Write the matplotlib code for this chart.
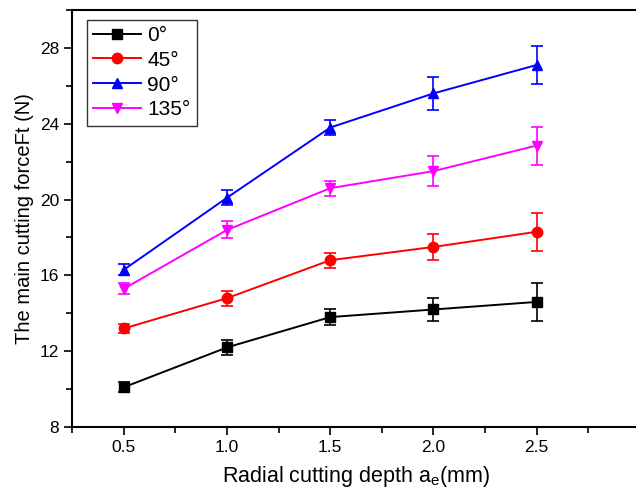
import numpy as np
import matplotlib.pyplot as plt
from matplotlib.ticker import MultipleLocator

plt.rcParams['font.family'] = ['Liberation Sans', 'DejaVu Sans']
plt.rcParams['mathtext.fontset'] = 'custom'
plt.rcParams['mathtext.rm'] = 'Liberation Sans'

# radial cutting depth (mm)
depth = [0.5, 1.0, 1.5, 2.0, 2.5]

# main cutting force Ft (N) and error bars for each angle
labels = ['0°', '45°', '90°', '135°']
force_0 = [10.1, 12.2, 13.8, 14.2, 14.6]
err_0 = [0.25, 0.4, 0.4, 0.6, 1.0]
force_45 = [13.2, 14.8, 16.8, 17.5, 18.3]
err_45 = [0.25, 0.4, 0.4, 0.7, 1.0]
force_90 = [16.3, 20.1, 23.8, 25.6, 27.1]
err_90 = [0.3, 0.4, 0.4, 0.85, 1.0]
force_135 = [15.3, 18.4, 20.6, 21.5, 22.85]
err_135 = [0.3, 0.45, 0.4, 0.8, 1.0]

forces = [force_0, force_45, force_90, force_135]
errs = [err_0, err_45, err_90, err_135]
colors = ['black', 'red', 'blue', 'magenta']
markers = ['s', 'o', '^', 'v']


def draw():
  fig = plt.figure(figsize=(6.36, 4.94), dpi=100)
  ax = fig.add_axes([0.1137, 0.1356, 0.8906, 0.8441])
  handles = []
  for f, e, c, m, lab in zip(forces, errs, colors, markers, labels):
    cont = ax.errorbar(depth, f, yerr=e, color=c, marker=m, markersize=7.5,
                       linewidth=1.4, elinewidth=1.2, capsize=4, capthick=1.2,
                       label=lab)
    handles.append(cont[0])
  ax.set_xlim(0.25, 2.995)
  ax.set_ylim(8, 30)
  ax.xaxis.set_major_locator(MultipleLocator(0.5))
  ax.xaxis.set_minor_locator(MultipleLocator(0.25))
  ax.yaxis.set_major_locator(MultipleLocator(4))
  ax.yaxis.set_minor_locator(MultipleLocator(2))
  ax.tick_params(which='both', direction='out', labelsize=12.5, width=1.2)
  ax.tick_params(which='major', length=6)
  ax.tick_params(which='minor', length=4)
  ax.spines['right'].set_visible(False)
  for s in ['left', 'bottom', 'top']:
    ax.spines[s].set_linewidth(1.5)
  ax.set_xlabel(r'Radial cutting depth a$_\mathregular{e}$(mm)', fontsize=15.5, labelpad=6)
  ax.set_ylabel('The main cutting forceFt (N)', fontsize=14.5, labelpad=4)
  leg = ax.legend(handles=handles, labels=labels, loc='upper left',
                  bbox_to_anchor=(0.026, 0.977), fontsize=15,
                  frameon=True, fancybox=False, edgecolor='black',
                  handlelength=2.3, borderpad=0.3, labelspacing=0.28,
                  handletextpad=0.3, borderaxespad=0)
  leg.get_frame().set_linewidth(1.0)
  fig.savefig('out.png', dpi=100)


if __name__ == '__main__':
  draw()
